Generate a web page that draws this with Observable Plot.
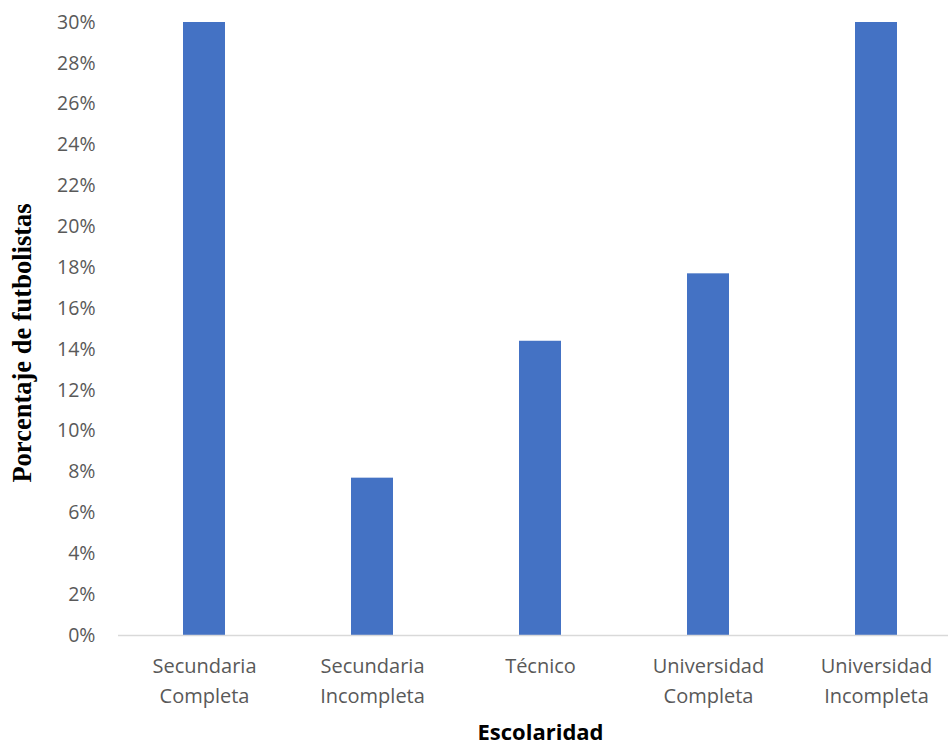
<!DOCTYPE html>
<html>
<head>
<meta charset="utf-8">
<script src="https://cdn.jsdelivr.net/npm/d3@7"></script>
<script src="https://cdn.jsdelivr.net/npm/@observablehq/plot@0.6"></script>
<style>
  html, body { margin: 0; padding: 0; background: #fff; overflow: hidden; }
  #chart svg { display: block; }
</style>
</head>
<body>
<div id="chart"></div>
<script>
const categories = ["Secundaria Completa", "Secundaria Incompleta", "Técnico", "Universidad Completa", "Universidad Incompleta"];
const values = [0.300, 0.077, 0.144, 0.177, 0.300];
const yTicks = [0, 0.02, 0.04, 0.06, 0.08, 0.10, 0.12, 0.14, 0.16, 0.18, 0.20, 0.22, 0.24, 0.26, 0.28, 0.30];
const xTitle = "Escolaridad";
const yTitle = "Porcentaje de futbolistas";

const data = categories.map((c, i) => ({category: c, value: values[i]}));

const chart = Plot.plot({
  width: 948,
  height: 744,
  marginLeft: 118,
  marginRight: -14,
  marginTop: 22,
  marginBottom: 109,
  style: {fontFamily: "'Open Sans', sans-serif", color: "#595959", background: "#fff"},
  x: {domain: categories, paddingInner: 0.75, paddingOuter: 0.375, label: null},
  y: {domain: [0, 0.30], label: null},
  marks: [
    Plot.barY(data, {x: "category", y: "value", fill: "#4472C4"}),
    Plot.ruleY([0], {stroke: "#d9d9d9", strokeWidth: 1.5}),
    Plot.axisY({ticks: yTicks, tickSize: 0, tickPadding: 23, fontSize: 19.5, fill: "#595959",
      tickFormat: d => Math.round(d * 100) + "%", label: null}),
    Plot.axisX({tickSize: 0, tickPadding: 16, fontSize: 20, fill: "#595959", lineHeight: 1.5,
      tickFormat: d => d.replace(" ", "\n"), label: null}),
    Plot.text([xTitle], {text: d => d, frameAnchor: "bottom", dy: 104, fontSize: 22, fontWeight: "bold",
      fill: "#000", fontFamily: "'Open Sans', sans-serif"}),
    Plot.text([yTitle], {text: d => d, frameAnchor: "left", textAnchor: "middle", rotate: -90, dx: -96, dy: 14,
      fontSize: 26.5, fontWeight: "bold", fill: "#000",
      fontFamily: "'Liberation Serif', 'Times New Roman', serif"})
  ]
});
document.getElementById("chart").appendChild(chart);
</script>
</body>
</html>
